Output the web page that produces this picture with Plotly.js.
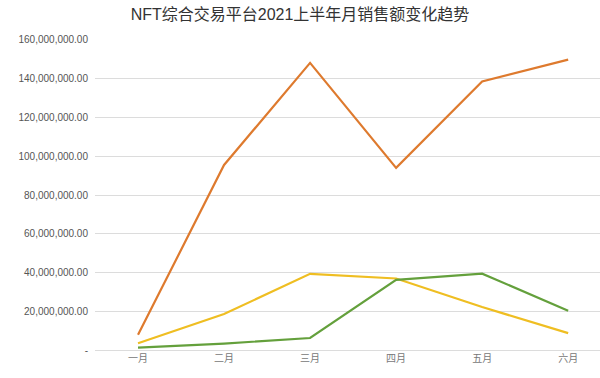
<!DOCTYPE html>
<html>
<head>
<meta charset="utf-8">
<script src="https://cdn.plot.ly/plotly-3.0.1.min.js"></script>
<style>html,body{margin:0;padding:0;background:#fff;overflow:hidden}#chart{width:600px;height:378px}</style>
</head>
<body>
<div id="chart"></div>
<script>
const months = ["一月","二月","三月","四月","五月","六月"];
const seriesOrange = [8.1e6, 95.5e6, 148.0e6, 94.0e6, 138.5e6, 149.7e6];
const seriesYellow = [3.8e6, 18.8e6, 39.5e6, 37.1e6, 22.4e6, 9.0e6];
const seriesGreen  = [1.5e6, 3.6e6, 6.5e6, 36.4e6, 39.6e6, 20.5e6];
const yTickVals = [0, 20e6, 40e6, 60e6, 80e6, 100e6, 120e6, 140e6, 160e6];
const yTickText = ["-", "20,000,000.00", "40,000,000.00", "60,000,000.00", "80,000,000.00", "100,000,000.00", "120,000,000.00", "140,000,000.00", "160,000,000.00"];

const mk = (y, color) => ({x: months, y: y, type: "scatter", mode: "lines", line: {color: color, width: 2.2}, hoverinfo: "none"});
const data = [
  mk(seriesOrange, "#DE7A2E"),
  mk(seriesYellow, "#EFBE22"),
  mk(seriesGreen, "#64A03C")
];
const layout = {
  width: 600, height: 378,
  margin: {l: 95, r: 0, t: 39, b: 27},
  paper_bgcolor: "#fff", plot_bgcolor: "#fff",
  showlegend: false,
  title: {text: "NFT综合交易平台2021上半年月销售额变化趋势", x: 0.5, xanchor: "center", y: 0.962, yanchor: "middle",
          font: {family: "Liberation Sans, Noto Sans CJK SC, sans-serif", size: 16, color: "#333"}},
  xaxis: {type: "category", range: [-0.5, 5.37], showgrid: false, zeroline: false, showline: false,
          tickfont: {family: "Noto Sans CJK SC, sans-serif", size: 10, color: "#777"}, ticks: ""},
  yaxis: {range: [-0.2e6, 160.3e6], tickvals: yTickVals, ticktext: yTickText, showgrid: true, gridcolor: "#dcdcdc", gridwidth: 1,
          zeroline: true, zerolinecolor: "#dcdcdc", zerolinewidth: 1, showline: false, ticks: "", ticklabelstandoff: 6,
          tickfont: {family: "Liberation Sans, sans-serif", size: 10, color: "#555"}}
};
Plotly.newPlot("chart", data, layout, {displayModeBar: false, staticPlot: true});
</script>
</body>
</html>
